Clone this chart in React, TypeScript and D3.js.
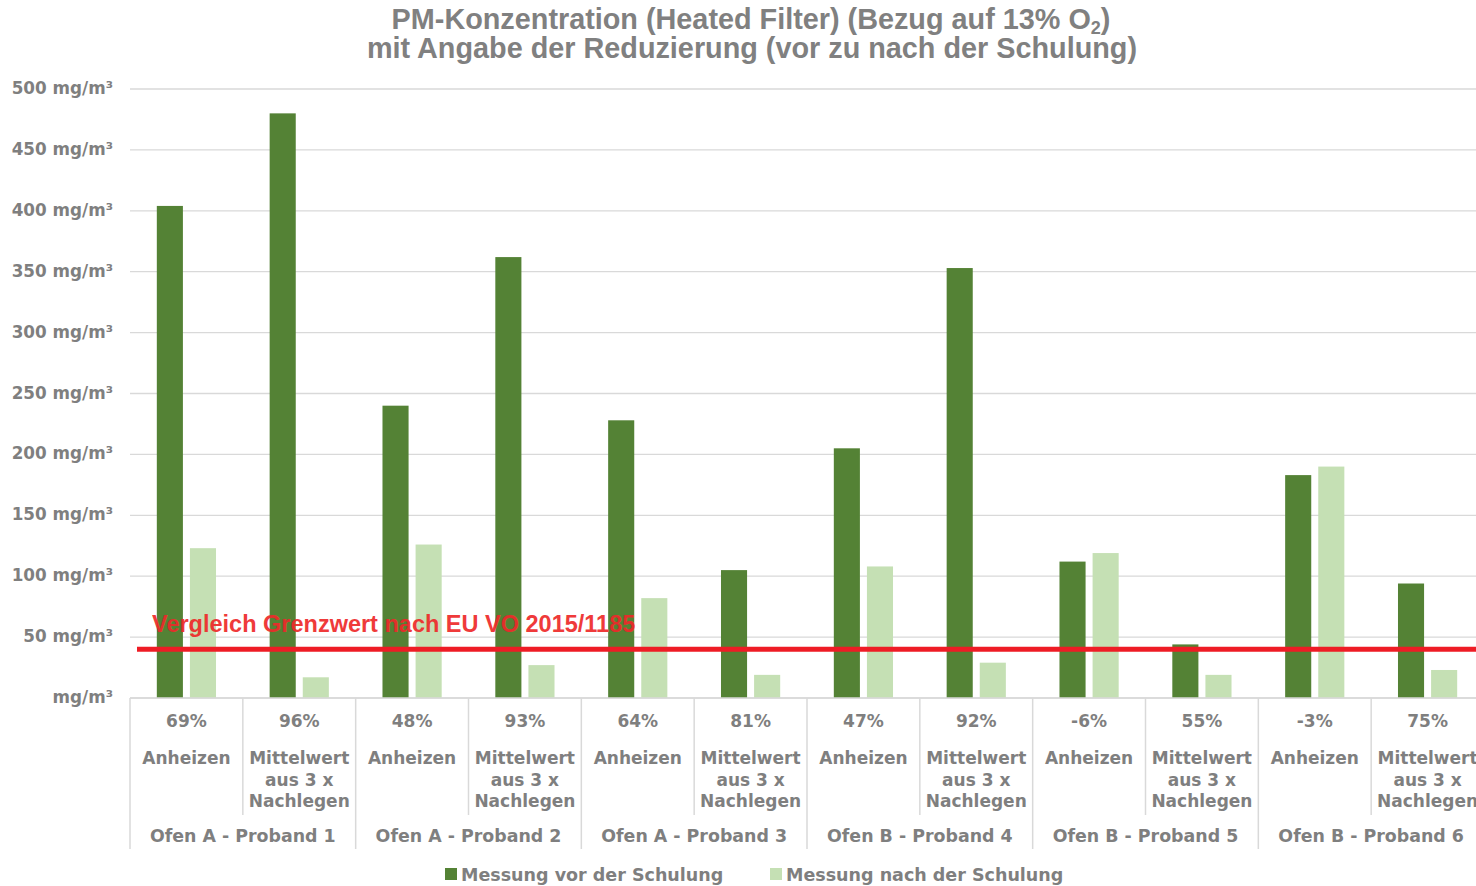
import React from "react";
import * as d3 from "d3";

const groups = [
  "Ofen A - Proband 1",
  "Ofen A - Proband 2",
  "Ofen A - Proband 3",
  "Ofen B - Proband 4",
  "Ofen B - Proband 5",
  "Ofen B - Proband 6",
];
const phases = [["Anheizen"], ["Mittelwert", "aus 3 x", "Nachlegen"]];
const reductions = ["69%", "96%", "48%", "93%", "64%", "81%", "47%", "92%", "-6%", "55%", "-3%", "75%"];
const vorValues = [404, 480, 240, 362, 228, 105, 205, 353, 112, 44, 183, 94];
const nachValues = [123, 17, 126, 27, 82, 19, 108, 29, 119, 19, 190, 23];
const series = ["Messung vor der Schulung", "Messung nach der Schulung"];
const seriesColors = ["#548235", "#c5e0b4"];
const yTicks = [0, 50, 100, 150, 200, 250, 300, 350, 400, 450, 500];
const limitValue = 40;
const limitLabel = "Vergleich Grenzwert nach EU VO 2015/1185";

const W = 1476;
const H = 886;
const gray = "#7f7f7f";
const font = "'DejaVu Sans', sans-serif";

const App = () => {
  const cats = d3.range(12);
  const x = d3.scaleBand<number>().domain(cats).range([130, 1484]);
  const xs = d3
    .scaleBand<number>()
    .domain([0, 1])
    .range([0, x.bandwidth()])
    .paddingInner(0.212)
    .paddingOuter(0.81);
  const y = d3.scaleLinear().domain([0, 500]).range([698, 89]);
  const groupW = x.bandwidth() * 2;

  const fmt = (v: number) => (v === 0 ? "mg/m³" : `${v} mg/m³`);

  return (
    <div style={{ position: "absolute", left: 0, top: 0 }}>
      <svg width={W} height={H} style={{ display: "block", background: "#fff" }}>
        {/* title */}
        <g
          fill="#808080"
          fontFamily="'Liberation Sans', Arial, sans-serif"
          fontWeight="bold"
          fontSize={28.8}
          textAnchor="middle"
        >
          <text x={751} y={29}>
            PM-Konzentration (Heated Filter) (Bezug auf 13% O
            <tspan fontSize={18} dy={5}>2</tspan>
            <tspan dy={-5}>)</tspan>
          </text>
          <text x={752} y={58}>mit Angabe der Reduzierung (vor zu nach der Schulung)</text>
        </g>

        {/* grid + y labels */}
        {yTicks.map((t) => (
          <g key={t}>
            <line x1={130} x2={W} y1={y(t)} y2={y(t)} stroke="#d9d9d9" strokeWidth={1.3} />
            <text
              x={113}
              y={y(t) + 5}
              textAnchor="end"
              fontFamily={font}
              fontWeight="bold"
              fontSize={16.8}
              fill={gray}
            >
              {fmt(t)}
            </text>
          </g>
        ))}

        {/* bars */}
        {cats.map((c) => (
          <g key={c} transform={`translate(${x(c)},0)`}>
            {[vorValues[c], nachValues[c]].map((v, s) => (
              <rect
                key={s}
                x={xs(s)}
                width={xs.bandwidth()}
                y={y(v)}
                height={y(0) - y(v)}
                fill={seriesColors[s]}
              />
            ))}
          </g>
        ))}

        {/* limit line */}
        <line x1={137} x2={W} y1={y(limitValue)} y2={y(limitValue)} stroke="#ee1c25" strokeWidth={5} />
        <text
          x={152}
          y={632}
          fontFamily="'Liberation Sans', Arial, sans-serif"
          fontWeight="bold"
          fontSize={23.5}
          fill="#ee2a2a"
          opacity={0.92}
        >
          {limitLabel}
        </text>

        {/* x axis */}
        <line x1={130} x2={W} y1={y(0)} y2={y(0)} stroke="#d9d9d9" strokeWidth={1.5} />
        <line x1={130} x2={130} y1={y(0)} y2={849} stroke="#d9d9d9" strokeWidth={1.5} />
        {cats.map((c) => {
          const right = (x(c) as number) + x.bandwidth();
          const isGroupEnd = c % 2 === 1;
          return (
            <line
              key={c}
              x1={right}
              x2={right}
              y1={y(0)}
              y2={isGroupEnd ? 849 : 815}
              stroke="#d9d9d9"
              strokeWidth={1.5}
            />
          );
        })}
        <g fontFamily={font} fontWeight="bold" fontSize={17} fill={gray} textAnchor="middle">
          {cats.map((c) => {
            const cx = (x(c) as number) + x.bandwidth() / 2;
            return (
              <g key={c}>
                <text x={cx} y={727}>{reductions[c]}</text>
                {phases[c % 2].map((line, i) => (
                  <text key={i} x={cx} y={764 + i * 21.5}>
                    {line}
                  </text>
                ))}
              </g>
            );
          })}
          {groups.map((g, i) => (
            <text key={g} x={130 + groupW * i + groupW / 2} y={842} fontSize={17.4}>
              {g}
            </text>
          ))}
        </g>

        {/* legend */}
        <g fontFamily={font} fontWeight="bold" fontSize={17.5} fill={gray}>
          {series.map((s, i) => {
            const lx = i === 0 ? 445 : 770;
            return (
              <g key={s}>
                <rect x={lx} y={868} width={12} height={12} fill={seriesColors[i]} />
                <text x={lx + 16} y={881}>{s}</text>
              </g>
            );
          })}
        </g>
      </svg>
    </div>
  );
};

export default App;
